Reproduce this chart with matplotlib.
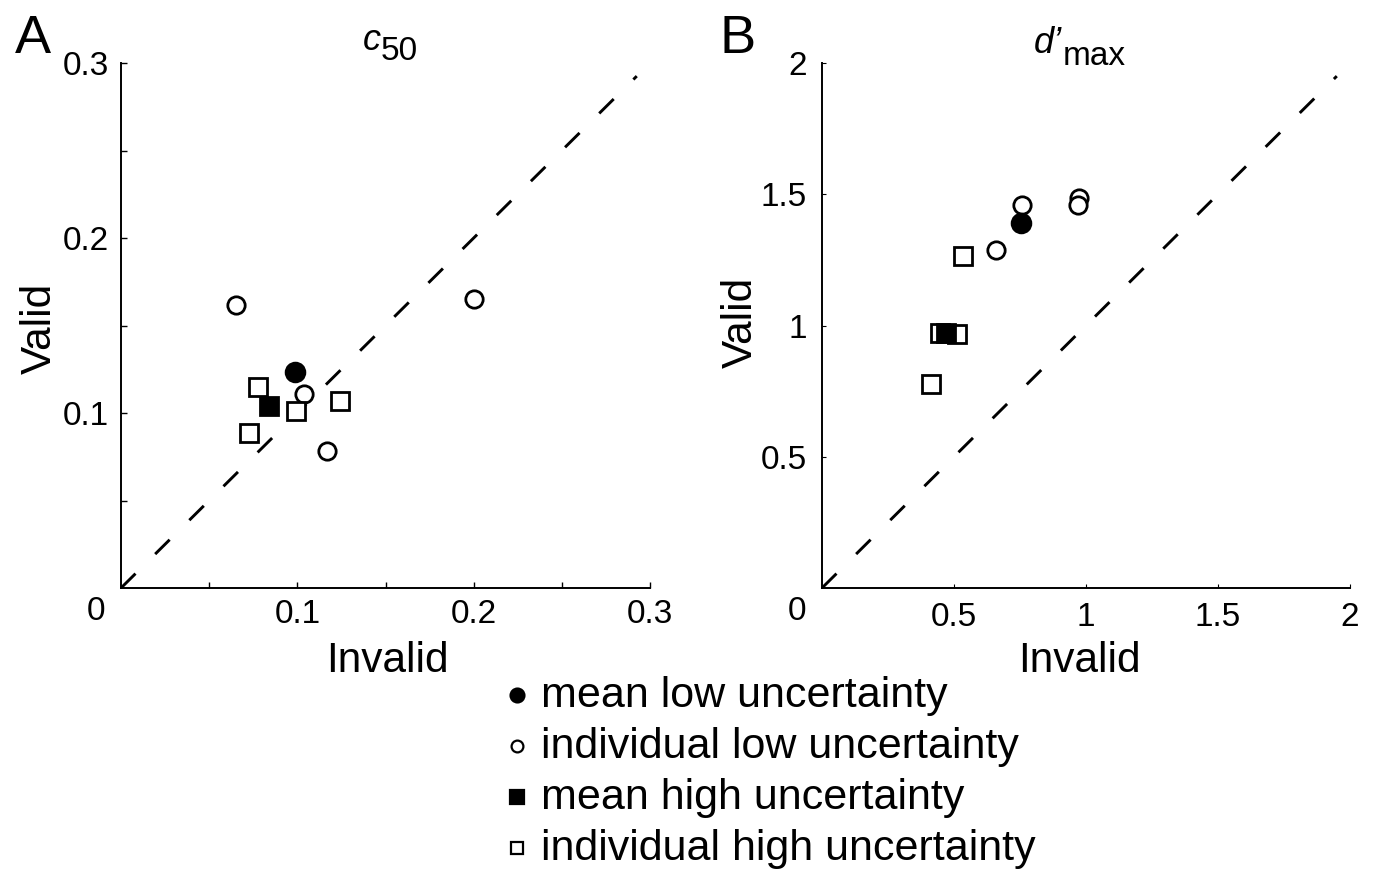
import matplotlib
matplotlib.use("Agg")
import matplotlib.pyplot as plt
import numpy as np

plt.rcParams['font.family'] = ['Liberation Sans', 'DejaVu Sans']

# ---- data: panel A (c50) ----
a_mean_low = ([0.0987], [0.1234])
a_ind_low_x = [0.0655, 0.2000, 0.1038, 0.1171]
a_ind_low_y = [0.1617, 0.1651, 0.1109, 0.0783]
a_mean_high = ([0.0840], [0.1040])
a_ind_high_x = [0.0779, 0.0990, 0.1242, 0.0726]
a_ind_high_y = [0.1147, 0.1013, 0.1069, 0.0884]

# ---- data: panel B (d'max) ----
b_mean_low = ([0.753], [1.392])
b_ind_low_x = [0.759, 0.972, 0.970, 0.658]
b_ind_low_y = [1.459, 1.487, 1.459, 1.288]
b_mean_high = ([0.469], [0.973])
b_ind_high_x = [0.535, 0.447, 0.510, 0.413]
b_ind_high_y = [1.265, 0.971, 0.968, 0.777]

a_ticks_major = [0.1, 0.2, 0.3]
a_ticks_all = [0.05, 0.1, 0.15, 0.2, 0.25, 0.3]
b_ticks_major = [0.5, 1, 1.5, 2]
a_tick_labels = ['0.1', '0.2', '0.3']
b_tick_labels = ['0.5', '1', '1.5', '2']

legend_labels = ['mean low uncertainty', 'individual low uncertainty',
                 'mean high uncertainty', 'individual high uncertainty']

W, H = 1374, 871
fig = plt.figure(figsize=(W / 100, H / 100), dpi=100)

def fx(x):
    return x / W

def fy(y):
    return 1 - y / H

axA = fig.add_axes([fx(121), fy(588), (650 - 121) / W, (588 - 63) / H])
axB = fig.add_axes([fx(822), fy(588), (1350 - 822) / W, (588 - 63) / H])

ms_ind = 12.5
ms_mean = 13.5
mew = 2.0

def draw(ax, lim, ml, ilx, ily, mh, ihx, ihy):
    ax.plot([0, lim * 0.975], [0, lim * 0.975], color='k', lw=2.1, dashes=(7, 9.5), zorder=1)
    ax.plot(ilx, ily, 'o', ms=ms_ind, mfc='white', mec='k', mew=mew, ls='none', zorder=3)
    ax.plot(ihx, ihy, 's', ms=ms_ind, mfc='white', mec='k', mew=mew, ls='none', zorder=3)
    ax.plot(ml[0], ml[1], 'o', ms=ms_mean, mfc='k', mec='k', mew=mew, ls='none', zorder=4)
    ax.plot(mh[0], mh[1], 's', ms=ms_mean, mfc='k', mec='k', mew=mew, ls='none', zorder=4)
    ax.set_xlim(0, lim)
    ax.set_ylim(0, lim)
    for s in ['top', 'right']:
        ax.spines[s].set_visible(False)
    for s in ['left', 'bottom']:
        ax.spines[s].set_linewidth(1.4)
    ax.annotate('0', xy=(0, 0), xycoords='data', xytext=(-25, -24),
                textcoords='offset pixels', ha='center', va='center', fontsize=24)

draw(axA, 0.3, a_mean_low, a_ind_low_x, a_ind_low_y, a_mean_high, a_ind_high_x, a_ind_high_y)
draw(axB, 2.0, b_mean_low, b_ind_low_x, b_ind_low_y, b_mean_high, b_ind_high_x, b_ind_high_y)

# ticks A
axA.set_xticks(a_ticks_all)
axA.set_xticklabels(['' if t not in a_ticks_major else a_tick_labels[a_ticks_major.index(t)] for t in a_ticks_all])
axA.set_yticks(a_ticks_all)
axA.set_yticklabels(['' if t not in a_ticks_major else a_tick_labels[a_ticks_major.index(t)] for t in a_ticks_all])
axA.tick_params(direction='in', length=4, width=1.0, labelsize=24)
axA.tick_params(axis='x', pad=8)
axA.tick_params(axis='y', pad=9)

# ticks B
axB.set_xticks(b_ticks_major)
axB.set_xticklabels(b_tick_labels)
axB.set_yticks(b_ticks_major)
axB.set_yticklabels(b_tick_labels)
axB.tick_params(direction='in', length=3, width=0.8, labelsize=24)
axB.tick_params(axis='x', pad=10)
axB.tick_params(axis='y', pad=11)

# axis labels
fig.text(fx(387), fy(672), 'Invalid', fontsize=30.5, ha='center', va='baseline')
fig.text(fx(1079), fy(672), 'Invalid', fontsize=30.5, ha='center', va='baseline')
fig.text(fx(40), fy(328), 'Valid', fontsize=30.5, ha='center', va='center', rotation=90)
fig.text(fx(741), fy(322), 'Valid', fontsize=30.5, ha='center', va='center', rotation=90)

# panel letters
fig.text(fx(15), fy(53), 'A', fontsize=39, ha='left', va='baseline')
fig.text(fx(720), fy(53), 'B', fontsize=39, ha='left', va='baseline')

# titles
fig.text(fx(381), fy(50), 'c', fontsize=26, style='italic', ha='right', va='baseline')
fig.text(fx(381), fy(60), '50', fontsize=24, ha='left', va='baseline')
fig.text(fx(1062), fy(53), 'd\u2019', fontsize=26, style='italic', ha='right', va='baseline')
fig.text(fx(1063), fy(65), 'max', fontsize=24, ha='left', va='baseline')

# legend (manual, figure pixel coordinates)
lg = fig.add_axes([0, 0, 1, 1], facecolor='none')
lg.set_xlim(0, W)
lg.set_ylim(H, 0)
lg.axis('off')
rows_y = [695, 746, 797, 848]
mk = [('o', 'k', 10.0), ('o', 'white', 8.5), ('s', 'k', 9.5), ('s', 'white', 9.0)]
for (m, fc, s), yy, lab in zip(mk, rows_y, legend_labels):
    lg.plot([517], [yy], m, ms=s, mfc=fc, mec='k', mew=1.6)
    lg.text(541, yy + 12, lab, fontsize=31, ha='left', va='baseline')

fig.savefig('out.png', dpi=100)
